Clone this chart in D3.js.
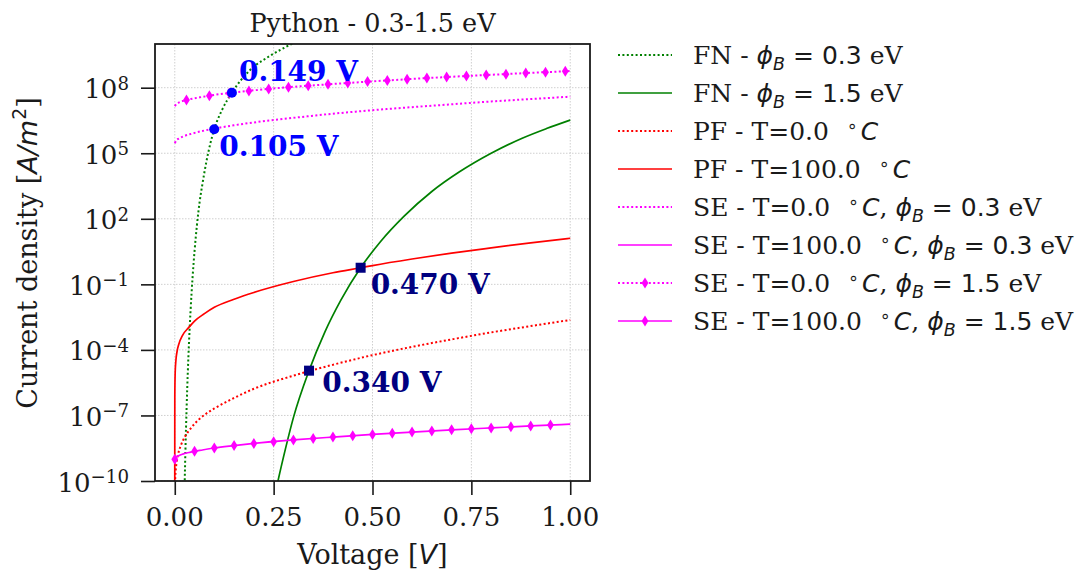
<!DOCTYPE html>
<html><head><meta charset="utf-8">
<script src="https://cdn.jsdelivr.net/npm/d3@7"></script>
<style>body{margin:0;background:#fff} svg{display:block} text{white-space:pre}</style>
</head><body>
<svg id="c" width="1076" height="571"></svg>
<script>
// ---------------- data (current density given as log10 of A/m^2) ----------------
const fn03V = [0.024, 0.025, 0.027, 0.030, 0.033, 0.036, 0.040, 0.045, 0.050, 0.056, 0.063, 0.070, 0.080, 0.100, 0.120, 0.1445, 0.190, 0.240, 0.295, 0.310];
const fn03J = [-10.98, -10.11, -8.56, -6.61, -5.00, -3.66, -2.18, -0.68, 0.52, 1.70, 2.79, 3.60, 4.62, 6.11, 7.00, 7.77, 8.80, 9.45, 10.00, 10.15];

const fn15V = [0.255, 0.26, 0.28, 0.30, 0.3395, 0.38, 0.42, 0.47, 0.52, 0.58, 0.65, 0.72, 0.80, 0.88, 0.94, 1.00];
const fn15J = [-10.50, -10.08, -8.52, -7.10, -4.95, -3.16, -1.72, -0.24, 0.95, 2.12, 3.25, 4.15, 5.00, 5.70, 6.13, 6.52];

const pf0V = [0.0005, 0.001, 0.002, 0.004, 0.008, 0.015, 0.025, 0.04, 0.06, 0.08, 0.1, 0.15, 0.2, 0.3, 0.3395, 0.4, 0.5, 0.6, 0.7, 0.8, 0.9, 1.0];
const pf0J = [-10.32, -9.97, -9.61, -9.23, -8.81, -8.39, -8.00, -7.60, -7.20, -6.91, -6.68, -6.20, -5.78, -5.18, -4.97, -4.68, -4.24, -3.86, -3.52, -3.20, -2.91, -2.63];

const pf100V = [1e-8, 1e-6, 1e-4, 0.001, 0.003, 0.006, 0.01, 0.02, 0.035, 0.05, 0.075, 0.1, 0.15, 0.2, 0.3, 0.4, 0.47, 0.5, 0.6, 0.7, 0.8, 0.9, 1.0];
const pf100J = [-10.17, -8.16, -6.13, -5.06, -4.45, -4.05, -3.75, -3.32, -2.98, -2.68, -2.34, -2.05, -1.68, -1.37, -0.87, -0.47, -0.24, -0.14, 0.16, 0.43, 0.67, 0.90, 1.11];

const seV = [0, 0.005, 0.01, 0.02, 0.04, 0.07, 0.1, 0.15, 0.2, 0.3, 0.4, 0.5, 0.6, 0.7, 0.8, 0.9, 1.0];
const seT0p03J = [5.46, 5.61, 5.67, 5.76, 5.88, 6.02, 6.13, 6.28, 6.41, 6.62, 6.81, 6.97, 7.11, 7.24, 7.37, 7.48, 7.59];
const seT0p15J = [7.16, 7.27, 7.32, 7.39, 7.48, 7.58, 7.67, 7.78, 7.88, 8.04, 8.17, 8.29, 8.40, 8.50, 8.59, 8.68, 8.76];
const seT100p15J = [-9.00, -8.89, -8.84, -8.77, -8.68, -8.58, -8.49, -8.38, -8.28, -8.12, -7.99, -7.87, -7.76, -7.66, -7.57, -7.48, -7.40];

const seT0p15MarkV = [0.0296, 0.0875, 0.1375, 0.1875, 0.2375, 0.2875, 0.3375, 0.3875, 0.4375, 0.4875, 0.5375, 0.5875, 0.6375, 0.6875, 0.7375, 0.7875, 0.8375, 0.8875, 0.9375, 0.9875];
const seT0p15MarkJ = [7.44, 7.63, 7.75, 7.85, 7.94, 8.02, 8.09, 8.16, 8.22, 8.28, 8.33, 8.39, 8.44, 8.49, 8.53, 8.58, 8.62, 8.67, 8.71, 8.75];
const seT100p15MarkV = [0, 0.05, 0.10, 0.15, 0.20, 0.25, 0.30, 0.35, 0.40, 0.45, 0.50, 0.55, 0.60, 0.65, 0.70, 0.75, 0.80, 0.85, 0.90, 0.95];
const seT100p15MarkJ = [-9.00, -8.64, -8.49, -8.38, -8.28, -8.20, -8.12, -8.05, -7.99, -7.93, -7.87, -7.81, -7.76, -7.71, -7.66, -7.61, -7.57, -7.52, -7.48, -7.44];

const crossV = [0.0998, 0.1445, 0.3395, 0.470];
const crossJ = [6.10, 7.77, -4.95, -0.24];
const crossLabels = ["0.105 V", "0.149 V", "0.340 V", "0.470 V"];

const xTicks = [0, 0.25, 0.5, 0.75, 1.0];
const xTickLabels = ["0.00", "0.25", "0.50", "0.75", "1.00"];
const yTickExp = [-10, -7, -4, -1, 2, 5, 8];

const titleText = "Python - 0.3-1.5 eV";

// ---------------- layout / styles ----------------
const SERIF = "'DejaVu Serif', serif";
const SANS = "'DejaVu Sans', sans-serif";
const INK = "#1a1a1a";
const W = {l: 155, r: 590, t: 44, b: 481};
const svg = d3.select("#c");

const x = d3.scaleLinear().domain([-0.05, 1.05]).range([W.l, W.r]);
const y = d3.scaleLog().domain([1e-10, 1e10]).range([W.b, W.t]);
const P = v => Math.pow(10, v);

function rich(text, base, segs) {
  let shift = 0;
  segs.forEach(s => {
    const ts = text.append("tspan").text(s.t)
      .attr("font-family", s.f === "sans" ? SANS : SERIF)
      .attr("font-style", s.i ? "italic" : "normal")
      .attr("font-size", base * (s.s || 1));
    const target = (s.sh || 0) * base;
    const dy = target - shift;
    if (dy) ts.attr("dy", dy);
    shift = target;
    if (s.dx) ts.attr("dx", s.dx * base);
  });
}

// clip
svg.append("clipPath").attr("id", "clip").append("rect")
  .attr("x", W.l).attr("y", W.t).attr("width", W.r - W.l).attr("height", W.b - W.t);

// grid
const grid = svg.append("g");
xTicks.forEach(t => grid.append("line").attr("x1", x(t)).attr("x2", x(t)).attr("y1", W.t).attr("y2", W.b)
  .attr("stroke", "#cfcfcf").attr("stroke-width", 1).attr("stroke-dasharray", "1.5,1.5"));
yTickExp.forEach(e => grid.append("line").attr("y1", y(P(e))).attr("y2", y(P(e))).attr("x1", W.l).attr("x2", W.r)
  .attr("stroke", "#cfcfcf").attr("stroke-width", 1).attr("stroke-dasharray", "1.5,1.5"));

// series
const GREEN = "#008000", RED = "#ff0000", MAG = "#ff00ff";
const DOT = "2,2.4";
const series = [
  {V: fn03V, J: fn03J, color: GREEN, dash: DOT},
  {V: fn15V, J: fn15J, color: GREEN, dash: null},
  {V: pf0V, J: pf0J, color: RED, dash: DOT},
  {V: pf100V, J: pf100J, color: RED, dash: null},
  {V: seV, J: seT0p03J, color: MAG, dash: DOT},
  {V: seV, J: seT0p15J, color: MAG, dash: DOT, mV: seT0p15MarkV, mJ: seT0p15MarkJ},
  {V: seV, J: seT100p15J, color: MAG, dash: null, mV: seT100p15MarkV, mJ: seT100p15MarkJ},
];
const line = d3.line().x(d => x(d[0])).y(d => y(P(d[1]))).curve(d3.curveMonotoneX);
const plot = svg.append("g").attr("clip-path", "url(#clip)");
const diamond = "M0,-5.5L3.4,0L0,5.5L-3.4,0Z";
series.forEach(s => {
  plot.append("path").attr("d", line(s.V.map((v, i) => [v, s.J[i]])))
    .attr("fill", "none").attr("stroke", s.color).attr("stroke-width", s.dash ? 2 : 1.7)
    .attr("stroke-dasharray", s.dash);
  if (s.mV) s.mV.forEach((v, i) => plot.append("path").attr("d", diamond)
    .attr("transform", `translate(${x(v)},${y(P(s.mJ[i]))})`).attr("fill", s.color));
});

// crossing markers + labels
const crossStyle = [
  {c: "#0000ff", shape: "circle", dx: 5, dy: 27},
  {c: "#0000ff", shape: "circle", dx: 7, dy: -12},
  {c: "#000080", shape: "square", dx: 13.3, dy: 21.3},
  {c: "#000080", shape: "square", dx: 10, dy: 26.6},
];
crossV.forEach((v, i) => {
  const st = crossStyle[i], px = x(v), py = y(P(crossJ[i]));
  if (st.shape === "circle") svg.append("circle").attr("cx", px).attr("cy", py).attr("r", 5).attr("fill", st.c);
  else svg.append("rect").attr("x", px - 5).attr("y", py - 5).attr("width", 10).attr("height", 10).attr("fill", st.c);
  svg.append("text").attr("x", px + st.dx).attr("y", py + st.dy).text(crossLabels[i])
    .attr("font-family", SERIF).attr("font-weight", "bold").attr("font-size", 28).attr("fill", st.c);
});

// frame
svg.append("rect").attr("x", W.l).attr("y", W.t).attr("width", W.r - W.l).attr("height", W.b - W.t)
  .attr("fill", "none").attr("stroke", INK).attr("stroke-width", 1.8);

// axes ticks
const xAxis = svg.append("g").attr("transform", `translate(0,${W.b})`)
  .call(d3.axisBottom(x).tickValues(xTicks).tickSize(14).tickFormat(""));
const yAxis = svg.append("g").attr("transform", `translate(${W.l},0)`)
  .call(d3.axisLeft(y).tickValues(yTickExp.map(P)).tickSize(14).tickFormat(""));
[xAxis, yAxis].forEach(a => {
  a.select(".domain").remove();
  a.selectAll(".tick line").attr("stroke", INK).attr("stroke-width", 1.6);
});

// tick labels
xTicks.forEach((t, i) => svg.append("text").attr("x", x(t)).attr("y", W.b + 45)
  .attr("text-anchor", "middle").attr("font-family", SERIF).attr("font-size", 26).attr("fill", INK)
  .text(xTickLabels[i]));
yTickExp.forEach(e => {
  const t = svg.append("text").attr("x", 129).attr("y", y(P(e)) + 10.5)
    .attr("text-anchor", "end").attr("fill", INK);
  rich(t, 26, [{t: "10"}, {t: String(e).replace("-", "\u2212"), s: 0.7, sh: -0.33}]);
});

// axis labels
const xl = svg.append("text").attr("x", (W.l + W.r) / 2).attr("y", 564).attr("text-anchor", "middle").attr("fill", INK);
rich(xl, 27, [{t: "Voltage ["}, {t: "V", f: "sans", i: 1}, {t: "]"}]);
const yl = svg.append("text").attr("transform", "translate(37,253) rotate(-90)").attr("text-anchor", "middle").attr("fill", INK);
rich(yl, 27, [{t: "Current density ["}, {t: "A/m", f: "sans", i: 1}, {t: "2", f: "sans", s: 0.7, sh: -0.4}, {t: "]"}]);

// title
svg.append("text").attr("x", (W.l + W.r) / 2).attr("y", 31.5).attr("text-anchor", "middle")
  .attr("font-family", SERIF).attr("font-size", 25.5).attr("fill", INK).text(titleText);

// legend
const phi = (val) => [{t: "\u03d5", f: "sans", i: 1}, {t: "B", f: "sans", i: 1, s: 0.7, sh: 0.22}, {t: " = " + val, f: "sans"}, {t: " eV"}];
const deg = [{t: "\u2218", f: "sans", s: 0.7, sh: -0.33, dx: 0.4}, {t: "C", f: "sans", i: 1, dx: 0.12}];
const legendItems = [
  {color: GREEN, dash: DOT, m: false, segs: [{t: "FN - "}, ...phi("0.3")]},
  {color: GREEN, dash: null, m: false, segs: [{t: "FN - "}, ...phi("1.5")]},
  {color: RED, dash: DOT, m: false, segs: [{t: "PF - T=0.0 "}, ...deg]},
  {color: RED, dash: null, m: false, segs: [{t: "PF - T=100.0 "}, ...deg]},
  {color: MAG, dash: DOT, m: false, segs: [{t: "SE - T=0.0 "}, ...deg, {t: ", "}, ...phi("0.3")]},
  {color: MAG, dash: null, m: false, segs: [{t: "SE - T=100.0 "}, ...deg, {t: ", "}, ...phi("0.3")]},
  {color: MAG, dash: DOT, m: true, segs: [{t: "SE - T=0.0 "}, ...deg, {t: ", "}, ...phi("1.5")]},
  {color: MAG, dash: null, m: true, segs: [{t: "SE - T=100.0 "}, ...deg, {t: ", "}, ...phi("1.5")]},
];
legendItems.forEach((it, i) => {
  const cy = 55 + i * 38;
  svg.append("line").attr("x1", 618).attr("x2", 672).attr("y1", cy).attr("y2", cy)
    .attr("stroke", it.color).attr("stroke-width", it.dash ? 2 : 1.7).attr("stroke-dasharray", it.dash);
  if (it.m) svg.append("path").attr("d", diamond).attr("transform", `translate(645,${cy})`).attr("fill", it.color);
  const t = svg.append("text").attr("x", 693).attr("y", cy + 9).attr("fill", INK);
  rich(t, 25, it.segs);
});
</script>
</body></html>
